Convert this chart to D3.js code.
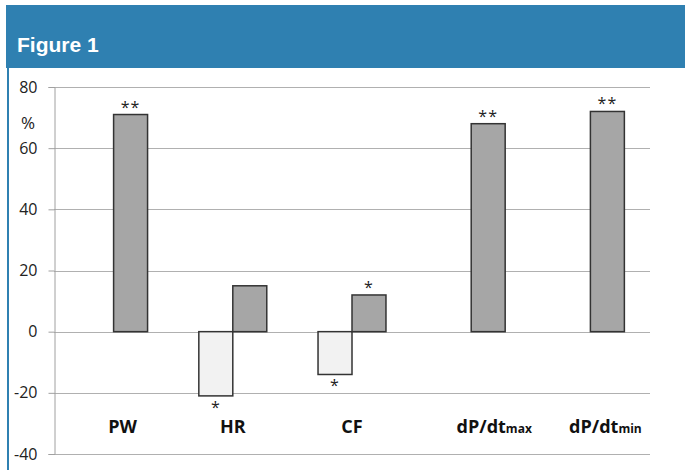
<!DOCTYPE html>
<html>
<head>
<meta charset="utf-8">
<script src="https://cdn.jsdelivr.net/npm/d3@7"></script>
<style>
  body { margin: 0; background: #fff; }
  svg { display: block; }
</style>
</head>
<body>
<script>
// values (%)
var categories = ["PW", "HR", "CF", "dP/dtmax", "dP/dtmin"];
var labelMain = ["PW", "HR", "CF", "dP/dt", "dP/dt"];
var labelSub = ["", "", "", "max", "min"];
var seriesA = [null, -21, -14, null, null];   // light bars
var seriesB = [71, 15, 12, 68, 72];           // dark bars
var sigA = ["", "*", "*", "", ""];
var sigB = ["**", "", "*", "**", "**"];
var yTicks = [-40, -20, 0, 20, 40, 60, 80];

var W = 685, H = 470;
var svg = d3.select("body").append("svg").attr("width", W).attr("height", H);

// header band
svg.append("rect").attr("x", 6).attr("y", 5).attr("width", W - 6).attr("height", 63)
  .attr("fill", "#2f80b1");
svg.append("text").attr("x", 17).attr("y", 52)
  .attr("font-family", "Liberation Sans, Arial, sans-serif")
  .attr("font-weight", "bold").attr("font-size", 21).attr("fill", "#fff")
  .text("Figure 1");
svg.append("rect").attr("x", 7).attr("y", 68).attr("width", 2).attr("height", H - 68)
  .attr("fill", "#2f80b1");

var left = 54, right = 650;
var y = d3.scaleLinear().domain([-40, 80]).range([454, 87]);
var x0 = d3.scaleBand().domain(categories).range([left, right])
  .paddingInner(0.43).paddingOuter(0.215);
var x1 = d3.scaleBand().domain(["A", "B"]).range([0, x0.bandwidth()]);

var font = "Open Sans, Noto Sans, sans-serif";

// grid
svg.append("g").selectAll("line").data(yTicks).enter().append("line")
  .attr("x1", left).attr("x2", right)
  .attr("y1", function(d){ return Math.round(y(d)) + 0.5; })
  .attr("y2", function(d){ return Math.round(y(d)) + 0.5; })
  .attr("stroke", "#b0b0b0").attr("stroke-width", 1);

// y axis
var yAxis = svg.append("g").attr("transform", "translate(" + (left + 0.5) + ",0)")
  .call(d3.axisLeft(y).tickValues(yTicks).tickSize(6).tickPadding(11)
    .tickFormat(function(d){ return String(d); }));
yAxis.select(".domain").attr("stroke", "#a0a0a0");
yAxis.selectAll(".tick line").attr("stroke", "#a0a0a0");
yAxis.selectAll(".tick text").attr("font-family", font).attr("font-size", 16)
  .attr("fill", "#222");

svg.append("text").attr("x", 28).attr("y", 129).attr("text-anchor", "middle")
  .attr("font-family", font).attr("font-size", 17).attr("fill", "#222").text("%");

// bars
var rows = categories.map(function(c, i){
  return {cat: c, a: seriesA[i], b: seriesB[i], sa: sigA[i], sb: sigB[i], i: i};
});

function drawBar(key, val, fill){
  var g = svg.append("g");
  g.selectAll("rect").data(rows.filter(function(d){ return d[val] != null; }))
    .enter().append("rect")
    .attr("x", function(d){ return x0(d.cat) + x1(key); })
    .attr("width", x1.bandwidth())
    .attr("y", function(d){ return y(Math.max(0, d[val])); })
    .attr("height", function(d){ return Math.abs(y(d[val]) - y(0)); })
    .attr("fill", fill).attr("stroke", "#333").attr("stroke-width", 1.5);
}
drawBar("A", "a", "#f2f2f2");
drawBar("B", "b", "#a6a6a6");

// significance marks
function drawSig(key, val, sig){
  svg.append("g").selectAll("text")
    .data(rows.filter(function(d){ return d[sig]; }))
    .enter().append("text")
    .attr("x", function(d){ return x0(d.cat) + x1(key) + x1.bandwidth() / 2; })
    .attr("y", function(d){ return d[val] >= 0 ? y(d[val]) - 2 : y(d[val]) + 17; })
    .attr("text-anchor", "middle").attr("letter-spacing", 1)
    .attr("font-family", font).attr("font-size", 16).attr("fill", "#222")
    .text(function(d){ return d[sig]; });
}
drawSig("A", "a", "sa");
drawSig("B", "b", "sb");

// category labels
var lab = svg.append("g").selectAll("text").data(rows).enter().append("text")
  .attr("x", function(d){
    // pairs centred on the group, single bars on the bar
    if (d.a != null) return x0(d.cat) + x0.bandwidth() / 2;
    return x0(d.cat) + x1("B") + x1.bandwidth() / 2 + [-8, 0, 0, 6, -2][d.i];
  })
  .attr("y", 433)
  .attr("text-anchor", "middle")
  .attr("font-family", font).attr("font-weight", "bold").attr("font-size", 18)
  .attr("fill", "#111");
lab.append("tspan").text(function(d){ return labelMain[d.i]; });
lab.append("tspan").attr("font-size", 12)
  .text(function(d){ return labelSub[d.i]; });
</script>
</body>
</html>
